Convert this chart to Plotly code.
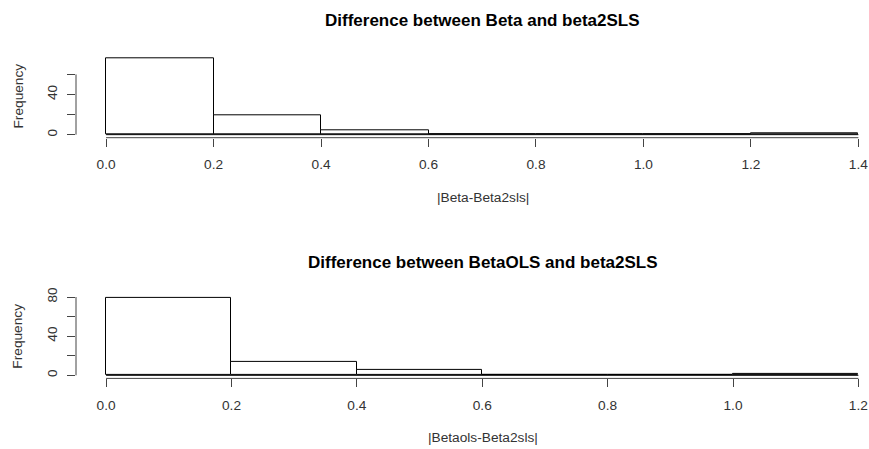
import plotly.graph_objects as go

# ---- data ----
edges_top = [0.0, 0.2, 0.4, 0.6, 0.8, 1.0, 1.2, 1.4]
counts_top = [76, 19, 4, 0, 0, 0, 1]
edges_bot = [0.0, 0.2, 0.4, 0.6, 0.8, 1.0, 1.2]
counts_bot = [79, 14, 6, 0, 0, 1]
title_top = "Difference between Beta and beta2SLS"
title_bot = "Difference between BetaOLS and beta2SLS"
xlabel_top = "|Beta-Beta2sls|"
xlabel_bot = "|Betaols-Beta2sls|"
ylabel = "Frequency"
xticks_top = [0.0, 0.2, 0.4, 0.6, 0.8, 1.0, 1.2, 1.4]
xticks_bot = [0.0, 0.2, 0.4, 0.6, 0.8, 1.0, 1.2]
yticks_top = [0, 20, 40, 60]
yticklabels_top = ["0", "", "40", ""]
yticks_bot = [0, 20, 40, 60, 80]
yticklabels_bot = ["0", "", "40", "", "80"]

W, H = 869, 449
FONT = "Liberation Sans, Arial, sans-serif"
AX = "#444444"

fig = go.Figure()

def add_panel(edges, counts, xa, ya):
    centers = [(edges[i] + edges[i + 1]) / 2 for i in range(len(counts))]
    widths = [edges[i + 1] - edges[i] for i in range(len(counts))]
    fig.add_trace(go.Bar(x=centers, y=counts, width=widths,
                         marker=dict(color="white", line=dict(color="black", width=1)),
                         xaxis=xa, yaxis=ya, showlegend=False, hoverinfo="skip"))
    fig.add_trace(go.Scatter(x=[edges[0], edges[-1]], y=[0, 0], mode="lines",
                             line=dict(color="black", width=1),
                             xaxis=xa, yaxis=ya, showlegend=False, hoverinfo="skip"))

add_panel(edges_top, counts_top, "x", "y")
add_panel(edges_bot, counts_bot, "x2", "y2")

# pixel geometry of panels (from top of figure)
left_px = 76
top1, bot1 = 55.3, 137.7
top2, bot2 = 294.9, 378.4

def ydom(t, b):
    return [1 - b / H, 1 - t / H]

def xrange_for(edges):
    span = edges[-1] - edges[0]
    lo = edges[0] - 0.04 * span
    pxunit = 752.3 / span
    return [lo, lo + (W - left_px) / pxunit]

def yrange_for(counts):
    m = max(counts)
    return [-0.04 * m, 1.04 * m]

common_x = dict(showgrid=False, zeroline=False, showline=False, ticks="outside",
                ticklen=8, tickcolor=AX, tickwidth=1, automargin=False,
                tickfont=dict(family=FONT, size=13.7, color="#333"),
                ticklabelstandoff=6)
common_y = dict(showgrid=False, zeroline=False, showline=False, ticks="outside",
                ticklen=8, tickcolor=AX, tickwidth=1, tickangle=-90, automargin=False,
                tickfont=dict(family=FONT, size=13.7, color="#333"),
                ticklabelstandoff=5)

fig.update_layout(
    width=W, height=H, margin=dict(l=0, r=0, t=0, b=0, pad=0, autoexpand=False),
    plot_bgcolor="white", paper_bgcolor="white", bargap=0,
    xaxis=dict(domain=[left_px / W, 1], range=xrange_for(edges_top), anchor="y",
               tickvals=xticks_top, ticktext=[f"{v:.1f}" for v in xticks_top], **common_x),
    yaxis=dict(domain=ydom(top1, bot1), range=yrange_for(counts_top), anchor="x",
               tickvals=yticks_top, ticktext=yticklabels_top, **common_y),
    xaxis2=dict(domain=[left_px / W, 1], range=xrange_for(edges_bot), anchor="y2",
                tickvals=xticks_bot, ticktext=[f"{v:.1f}" for v in xticks_bot], **common_x),
    yaxis2=dict(domain=ydom(top2, bot2), range=yrange_for(counts_bot), anchor="x2",
                tickvals=yticks_bot, ticktext=yticklabels_bot, **common_y),
)

# axis lines spanning only tick range (R style)
for xa, ya, xt, yt in [("x", "y", xticks_top, yticks_top), ("x2", "y2", xticks_bot, yticks_bot)]:
    fig.add_shape(type="line", xref=xa, yref=f"{ya} domain", x0=xt[0], x1=xt[-1], y0=0, y1=0,
                  line=dict(color=AX, width=1))
    fig.add_shape(type="line", xref=f"{xa} domain", yref=ya, x0=0, x1=0, y0=yt[0], y1=yt[-1],
                  line=dict(color=AX, width=1))

cx = 482.5 / W
anns = [
    (title_top, cx, 20.7, 17, True, 0),
    (title_bot, cx, 262, 17, True, 0),
    (xlabel_top, cx, 198, 13.7, False, 0),
    (xlabel_bot, cx, 437, 13.7, False, 0),
    (ylabel, 18 / W, (top1 + bot1) / 2, 13.7, False, -90),
    (ylabel, 18 / W, (top2 + bot2) / 2, 13.7, False, -90),
]
for text, x, ypx, size, bold, ang in anns:
    fig.add_annotation(text=f"<b>{text}</b>" if bold else text, x=x, y=1 - ypx / H,
                       xref="paper", yref="paper", showarrow=False, textangle=ang,
                       xanchor="center", yanchor="middle",
                       font=dict(family=FONT, size=size, color="black" if bold else "#333"))

fig.write_html("out.html", config={"displayModeBar": False},
               post_script="document.body.style.margin='0';document.body.style.overflow='hidden';")
